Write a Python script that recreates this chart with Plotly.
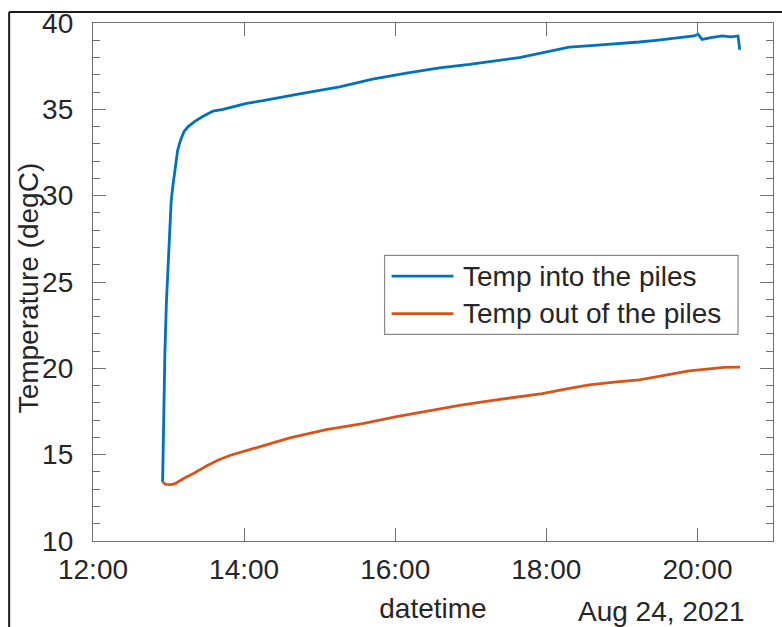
import plotly.graph_objects as go

DAY = "2021-08-24 "

# Supply temperature (into the piles), degC
t_in = ["12:55:16", "12:55:54", "12:57:05", "12:58:17", "12:59:19", "13:00:30",
        "13:01:17", "13:02:05", "13:03:40", "13:05:16", "13:07:10", "13:08:59",
        "13:12:10", "13:15:34", "13:20:53", "13:27:28", "13:35:23", "13:43:19",
        "13:51:15", "14:01:53", "14:15:02", "14:28:17", "14:44:08", "15:15:51",
        "15:42:01", "16:08:59", "16:35:09", "16:58:56", "17:22:43", "17:38:34",
        "17:58:25", "18:18:13", "18:38:04", "19:00:16", "19:13:44", "19:27:13",
        "19:45:25", "19:57:20", "20:00:29", "20:03:40", "20:10:49", "20:19:34",
        "20:26:43", "20:32:14", "20:33:35"]
temp_in = [13.4, 16.9, 20.9, 23.8, 25.5, 27.2,
           28.8, 29.7, 30.7, 31.6, 32.6, 33.1,
           33.7, 34.0, 34.3, 34.6, 34.9, 35.0,
           35.15, 35.35, 35.5, 35.7, 35.9, 36.3,
           36.75, 37.1, 37.4, 37.6, 37.85, 38.0,
           38.3, 38.6, 38.7, 38.8, 38.9, 39.0,
           39.15, 39.25, 39.35, 39.05, 39.15, 39.25,
           39.2, 39.25, 38.45]

# Return temperature (out of the piles), degC
t_out = ["12:55:16", "12:57:53", "13:02:24", "13:05:49", "13:11:36", "13:20:53",
         "13:30:09", "13:39:07", "13:48:38", "14:09:48", "14:36:13", "15:05:18",
         "15:34:05", "16:01:03", "16:27:14", "16:53:23", "17:20:21", "17:38:34",
         "17:56:50", "18:15:04", "18:34:05", "18:53:55", "19:13:44", "19:27:13",
         "19:41:29", "19:53:23", "20:09:14", "20:21:07", "20:33:50"]
temp_out = [13.4, 13.28, 13.26, 13.35, 13.6, 13.95,
            14.35, 14.68, 14.95, 15.4, 15.97, 16.45,
            16.8, 17.2, 17.56, 17.88, 18.18, 18.35,
            18.53, 18.8, 19.04, 19.2, 19.33, 19.5,
            19.68, 19.85, 19.97, 20.05, 20.07]

series_names = ["Temp into the piles", "Temp out of the piles"]
series_colors = ["#0072BD", "#D95319"]

FONT = "Liberation Sans, Arial, sans-serif"
TXT = "#262626"
AX = "#707070"

fig = go.Figure()
fig.add_trace(go.Scatter(x=[DAY + t for t in t_in], y=temp_in, mode="lines",
                         name=series_names[0], showlegend=False,
                         line=dict(color=series_colors[0], width=2.8)))
fig.add_trace(go.Scatter(x=[DAY + t for t in t_out], y=temp_out, mode="lines",
                         name=series_names[1], showlegend=False,
                         line=dict(color=series_colors[1], width=2.8)))

fig.update_layout(
    width=782, height=627,
    margin=dict(l=93, r=8, t=17, b=86),
    paper_bgcolor="white", plot_bgcolor="white",
    font=dict(family=FONT, size=28, color=TXT),
    xaxis=dict(
        range=[DAY + "12:00", DAY + "21:00"],
        tick0=DAY + "12:00", dtick=2 * 3600 * 1000, tickformat="%H:%M",
        ticks="inside", ticklen=13, tickwidth=1.2, tickcolor=AX,
        showline=True, linecolor=AX, linewidth=1.3, mirror="ticks",
        showgrid=False, zeroline=False, ticklabelstandoff=3,
        title=dict(text="datetime", standoff=14, font=dict(size=28)),
    ),
    yaxis=dict(
        range=[10, 40], dtick=5, tick0=10,
        ticks="inside", ticklen=13, tickwidth=1.2, tickcolor=AX,
        minor=dict(dtick=1, ticks="inside", ticklen=7, tickcolor=AX, tickwidth=1.2),
        showline=True, linecolor=AX, linewidth=1.3, mirror="ticks",
        showgrid=False, zeroline=False, ticklabelstandoff=13,
    ),
)

# vertical axis title
fig.add_annotation(text="Temperature (degC)", xref="paper", yref="paper",
                   x=-0.0954, y=0.488, textangle=-90, xanchor="center",
                   yanchor="middle", showarrow=False,
                   font=dict(size=28, color=TXT))

# date stamp under the right end of the time axis
fig.add_annotation(text="Aug 24, 2021", xref="paper", yref="paper",
                   x=0.962, y=-0.136, xanchor="right", yanchor="middle",
                   showarrow=False, font=dict(size=28, color=TXT))

# legend box with line samples
lx0, lx1, ly0, ly1 = 0.4288, 0.9486, 0.3989, 0.5515
fig.add_shape(type="rect", xref="paper", yref="paper", x0=lx0, x1=lx1, y0=ly0, y1=ly1,
              line=dict(color="#8a8a8a", width=1.2), fillcolor="white", layer="above")
for name, color, ry in zip(series_names, series_colors, [0.5115, 0.4389]):
    fig.add_shape(type="line", xref="paper", yref="paper", x0=0.4391, x1=0.5301,
                  y0=ry, y1=ry, line=dict(color=color, width=2.8), layer="above")
    fig.add_annotation(text=name, xref="paper", yref="paper", x=0.5419, y=ry,
                       xanchor="left", yanchor="middle", showarrow=False,
                       font=dict(size=28, color=TXT))

# outer frame edges (top and left)
fig.add_shape(type="line", xref="paper", yref="paper", x0=-0.1233, x1=1.02,
              y0=1.021, y1=1.021, line=dict(color="#1a1a1a", width=2))
fig.add_shape(type="line", xref="paper", yref="paper", x0=-0.1233, x1=-0.1233,
              y0=1.021, y1=-0.2, line=dict(color="#1a1a1a", width=2))

fig.write_html("out.html")
